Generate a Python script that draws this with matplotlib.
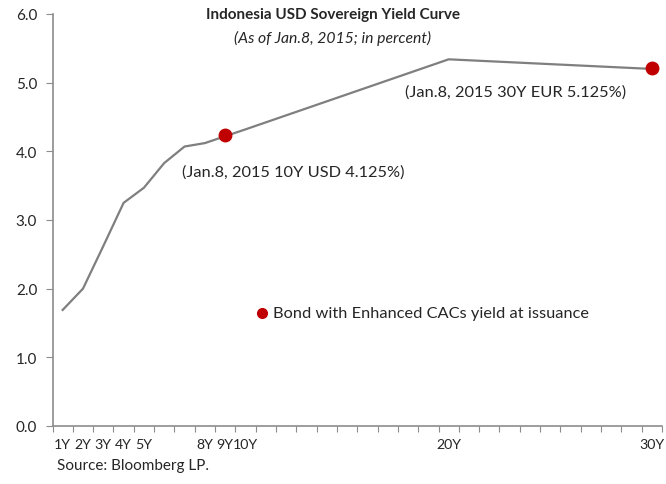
import matplotlib
matplotlib.use("Agg")
import matplotlib.pyplot as plt

# yield curve (years to maturity, percent)
years = [1, 2, 3, 4, 5, 6, 7, 8, 9, 10, 20, 30]
yields = [1.69, 2.00, 2.62, 3.25, 3.47, 3.83, 4.07, 4.12, 4.22, 4.32, 5.34, 5.20]

# bonds with enhanced CACs
bond_years = [9, 30]
bond_yields = [4.24, 5.21]
bond_notes = ["(Jan.8, 2015 10Y USD 4.125%)", "(Jan.8, 2015 30Y EUR 5.125%)"]

tick_labels = {1: "1Y", 2: "2Y", 3: "3Y", 4: "4Y", 5: "5Y", 8: "8Y", 9: "9Y",
               10: "10Y", 20: "20Y", 30: "30Y"}

plt.rcParams['font.family'] = ['Lato', 'DejaVu Sans']
txt = "#262626"
axc = "#8c8c8c"
red = "#c00000"

fig = plt.figure(figsize=(6.66, 4.85), dpi=100)
ax = fig.add_axes([52.5 / 666, 1 - 427 / 485, 609.5 / 666, 412 / 485])

ax.plot(years, yields, color="#7f7f7f", lw=1.6, zorder=2)
ax.plot(bond_years, bond_yields, "o", color=red, ms=9, zorder=3)

ax.set_xlim(0.5, 30.5)
ax.set_ylim(0, 6)

# category style x axis: ticks on boundaries, labels at centres
ax.set_xticks([i + 0.5 for i in range(0, 31)])
ax.set_xticklabels([])
ax.set_xticks(list(range(1, 31)), minor=True)
ax.set_xticklabels([tick_labels.get(i, "") for i in range(1, 31)], minor=True)
ax.tick_params(axis="x", which="major", length=4, color=axc, direction="out")
ax.tick_params(axis="x", which="minor", length=0, pad=9, labelsize=10.2, labelcolor=txt)

ax.set_yticks([0, 1, 2, 3, 4, 5, 6])
ax.set_yticklabels(["%.1f" % v for v in range(7)])
ax.tick_params(axis="y", length=5, color=axc, labelsize=11, labelcolor=txt, pad=6)

for s in ["top", "right"]:
    ax.spines[s].set_visible(False)
for s in ["left", "bottom"]:
    ax.spines[s].set_color(axc)
    ax.spines[s].set_linewidth(1.2)

fig.text(333 / 666, 1 - 15 / 485, "Indonesia USD Sovereign Yield Curve",
         ha="center", va="center", fontsize=11, fontweight="bold", color=txt)
fig.text(333 / 666, 1 - 38 / 485, "(As of Jan.8, 2015; in percent)",
         ha="center", va="center", fontsize=11.3, style="italic", color=txt)

ax.annotate(bond_notes[0], (bond_years[0], bond_yields[0]), xytext=(-31, -26.5),
            textcoords="offset points", fontsize=11.8, color=txt, va="center")
ax.annotate(bond_notes[1], (bond_years[1], bond_yields[1]), xytext=(-178, -16.5),
            textcoords="offset points", fontsize=11.8, color=txt, va="center")

# legend
ax.plot([10.8], [1.65], "o", color=red, ms=7, clip_on=False)
ax.text(11.35, 1.65, "Bond with Enhanced CACs yield at issuance",
        fontsize=11.8, color=txt, va="center")

fig.text(57 / 666, 1 - 466 / 485, "Source: Bloomberg LP.", fontsize=11,
         color=txt, va="center")

fig.savefig("out.png", dpi=100)
